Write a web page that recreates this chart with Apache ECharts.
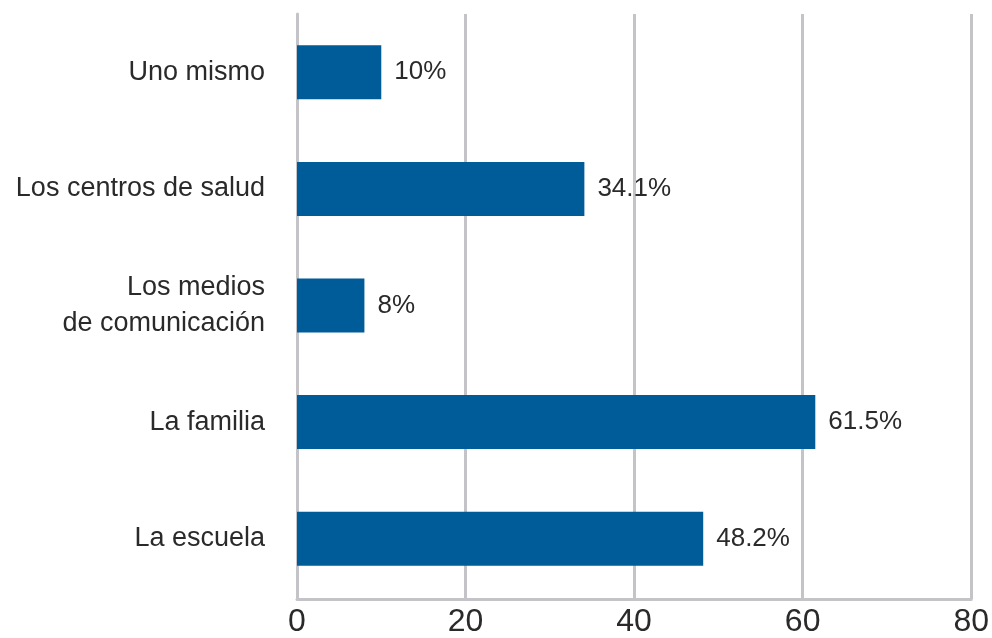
<!DOCTYPE html>
<html>
<head>
<meta charset="utf-8">
<script src="https://cdn.jsdelivr.net/npm/echarts@6/dist/echarts.min.js"></script>
<style>html,body{margin:0;padding:0;background:#fff}#c{width:992px;height:638px}</style>
</head>
<body>
<div id="c"></div>
<script>
// Data (bottom to top)
const categories = ['La escuela', 'La familia', 'Los medios\nde comunicación', 'Los centros de salud', 'Uno mismo'];
const values = [48.2, 61.5, 8, 34.1, 10];
const valueTicks = [0, 20, 40, 60, 80];

const chart = echarts.init(document.getElementById('c'), null, {renderer: 'canvas'});
const FONT = '"Liberation Sans", Arial, sans-serif';
chart.setOption({
  animation: false,
  backgroundColor: '#ffffff',
  grid: {left: 297, right: 20, top: 14, bottom: 36, containLabel: false},
  xAxis: {
    type: 'value',
    min: valueTicks[0],
    max: valueTicks[valueTicks.length - 1],
    interval: valueTicks[1] - valueTicks[0],
    offset: 2,
    axisLine: {show: true, lineStyle: {color: '#c4c4c8', width: 3}},
    axisTick: {show: true, inside: true, length: 2, lineStyle: {color: '#c4c4c8', width: 3}},
    splitLine: {show: true, lineStyle: {color: '#c4c4c8', width: 3}},
    axisLabel: {color: '#2a2a2a', fontSize: 32, fontFamily: FONT, margin: 7}
  },
  yAxis: {
    type: 'category',
    data: categories,
    axisLine: {show: true, lineStyle: {color: '#c4c4c8', width: 3}},
    axisTick: {show: false},
    axisLabel: {color: '#2a2a2a', fontSize: 27, fontFamily: FONT, margin: 32, align: 'right', lineHeight: 36}
  },
  series: [{
    type: 'bar',
    data: values,
    barWidth: 54,
    itemStyle: {color: '#005b99'},
    label: {
      show: true,
      position: 'right',
      distance: 13,
      formatter: p => p.value + '%',
      color: '#2a2a2a',
      fontSize: 26,
      fontFamily: FONT
    }
  }]
});
</script>
</body>
</html>
